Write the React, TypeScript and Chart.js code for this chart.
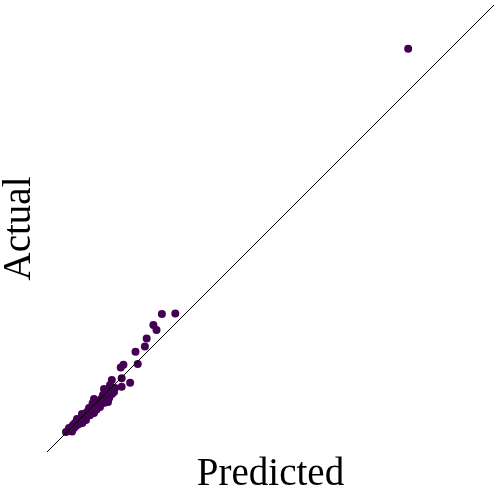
import React, { useEffect, useRef } from "react";
import { Chart, registerables } from "chart.js";

Chart.register(...registerables);

const predicted: number[] = [
  80.8, 25.7, 28.7, 23.8, 24.5, 22.3, 21.9, 19.8, 20.3, 17.1, 16.5, 18.6, 16.7, 14.5, 14.1, 16.7,
  4.25, 4.7, 4.92, 5.15, 5.59, 5.82, 6.04, 6.26, 6.49, 6.93, 7.16, 7.38, 7.61, 7.83, 8.28, 8.5,
  8.72, 8.95, 9.17, 9.62, 9.84, 10.07, 10.29, 10.74, 10.96, 11.19, 11.41, 11.86, 12.08, 12.3,
  12.75, 12.98, 13.2, 13.42, 13.87, 14.09, 14.54, 14.77, 14.99, 15.21, 12.53, 10.96, 9.4, 7.83,
  6.71, 11.86, 10.51, 8.72, 13.65, 10.51, 12.75, 9.6, 11.1, 12.9, 7.9, 5.6, 13.9, 10.2,
];

const actual: number[] = [
  90.2, 30.9, 31.0, 28.4, 27.3, 25.4, 23.6, 22.4, 19.7, 19.5, 18.9, 15.5, 16.5, 16.1, 15.0, 14.6,
  4.47, 4.7, 5.37, 4.92, 5.59, 6.04, 5.37, 6.49, 5.82, 6.93, 6.26, 7.38, 6.71, 7.83, 7.38, 8.5,
  7.83, 8.95, 8.28, 9.4, 8.72, 10.07, 9.17, 10.51, 9.62, 11.19, 10.29, 11.63, 10.74, 12.08,
  11.41, 12.53, 11.86, 13.2, 12.53, 13.65, 12.98, 14.09, 13.42, 14.32, 12.75, 11.19, 9.84, 8.5,
  7.38, 10.07, 8.72, 7.16, 11.19, 11.86, 14.09, 8.2, 9.5, 11.0, 6.5, 4.6, 12.1, 10.9,
];

const axisMin = 0;
const axisMax = 100;

export default function App() {
  const ref = useRef<HTMLCanvasElement | null>(null);

  useEffect(() => {
    if (!ref.current) return;
    const points = predicted.map((p, i) => ({ x: p, y: actual[i] }));
    const font = { family: "'Liberation Serif', 'Times New Roman', serif", size: 39, lineHeight: 1.0 };
    const chart = new Chart(ref.current, {
      type: "scatter",
      data: {
        datasets: [
          {
            type: "line",
            data: [
              { x: axisMin, y: axisMin },
              { x: axisMax, y: axisMax },
            ],
            borderColor: "#000000",
            borderWidth: 1,
            pointRadius: 0,
            fill: false,
          } as any,
          {
            data: points,
            backgroundColor: "#440154",
            borderColor: "#440154",
            borderWidth: 0,
            pointRadius: 4,
          },
        ],
      },
      options: {
        animation: false,
        responsive: false,
        layout: { padding: { top: 5, right: 6, left: 0, bottom: 0 }, autoPadding: false },
        plugins: { legend: { display: false }, tooltip: { enabled: false } },
        scales: {
          x: {
            type: "linear",
            min: axisMin,
            max: axisMax,
            grid: { display: false, drawTicks: false },
            border: { display: false },
            ticks: { display: false },
            title: { display: true, text: "Predicted", color: "#000", font, padding: { top: 3, bottom: 6 } },
          },
          y: {
            type: "linear",
            min: axisMin,
            max: axisMax,
            grid: { display: false, drawTicks: false },
            border: { display: false },
            ticks: { display: false },
            title: { display: true, text: "Actual", color: "#000", font, padding: { top: 0, bottom: 8 } },
          },
        },
      },
    });
    return () => chart.destroy();
  }, []);

  return (
    <div style={{ position: "fixed", left: 0, top: 0, width: 500, height: 500, background: "#fff" }}>
      <canvas ref={ref} width={500} height={500} style={{ display: "block" }} />
    </div>
  );
}
